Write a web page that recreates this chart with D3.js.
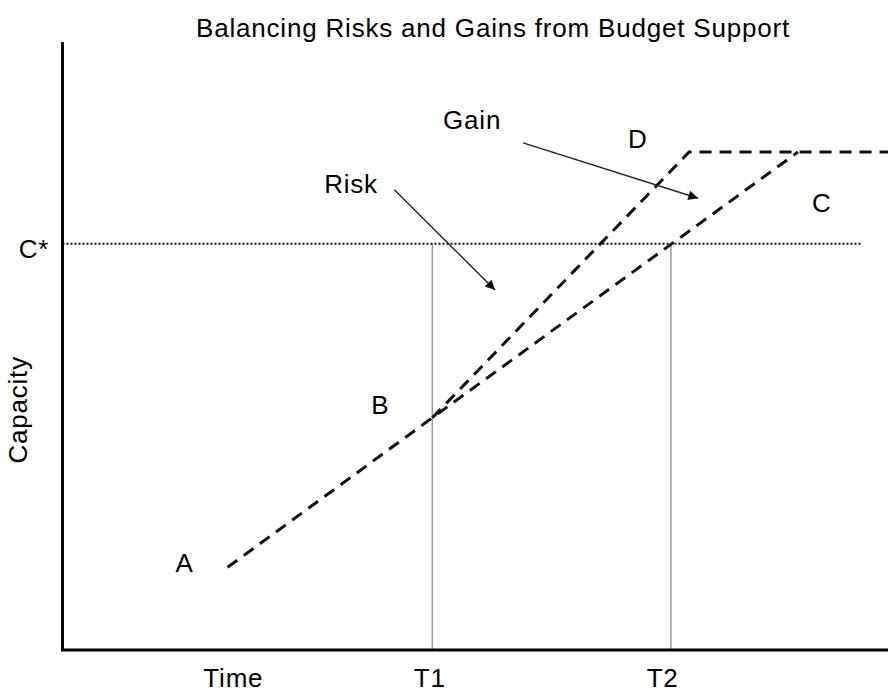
<!DOCTYPE html>
<html>
<head>
<meta charset="utf-8">
<script src="https://cdn.jsdelivr.net/npm/d3@7"></script>
<style>
  body { margin: 0; background: #fff; }
  text { font-family: "Liberation Sans", Arial, sans-serif; font-size: 26px; letter-spacing: 0.8px; fill: #000; }
</style>
</head>
<body>
<script>
"use strict";

const WIDTH = 888
const HEIGHT = 693

// data, in abstract units: time 0..100, capacity 0..100
// C path stops where it meets the shared plateau, D path carries the plateau on
const pathC = [{ t: 20.0, c: 13.6 }, { t: 44.8, c: 38.2 }, { t: 89.1, c: 81.9 }]
const pathD = [{ t: 44.8, c: 38.2 }, { t: 75.9, c: 81.9 }, { t: 100, c: 81.9 }]
const cStar = 66.8
const cStarEnd = 96.9
const timeMarks = [{ name: "T1", t: 44.8, labelT: 44.5 }, { name: "T2", t: 73.7, labelT: 72.7 }]
const pointLabels = [
    { text: "A", t: 13.7, c: 12.8 },
    { text: "B", t: 37.4, c: 38.8 },
    { text: "C", t: 90.8, c: 72.0 },
    { text: "D", t: 68.5, c: 82.6 },
    { text: "Risk", t: 31.7, c: 75.2 },
    { text: "Gain", t: 46.1, c: 85.7 },
]
const arrows = [
    { from: { t: 40.2, c: 75.7 }, to: { t: 52.4, c: 59.2 } },
    { from: { t: 55.8, c: 83.4 }, to: { t: 77.0, c: 74.3 } },
]

const x = d3.scaleLinear().domain([0, 100]).range([62.5, 888])
const y = d3.scaleLinear().domain([0, 100]).range([650, 42])

const svg = d3.select("body").append("svg")
    .attr("width", WIDTH)
    .attr("height", HEIGHT)

svg.append("defs").append("marker")
    .attr("id", "head")
    .attr("viewBox", "0 0 10 10")
    .attr("refX", 10)
    .attr("refY", 5)
    .attr("markerWidth", 9)
    .attr("markerHeight", 7)
    .attr("markerUnits", "strokeWidth")
    .attr("orient", "auto")
    .append("path")
    .attr("d", "M0,0 L10,5 L0,10 Z")
    .attr("fill", "#111")

// title
svg.append("text")
    .attr("x", 493)
    .attr("y", 37)
    .attr("text-anchor", "middle")
    .text("Balancing Risks and Gains from Budget Support")

// grey verticals at T1, T2
svg.selectAll(".tline").data(timeMarks).join("line")
    .attr("x1", d => x(d.t)).attr("x2", d => x(d.t))
    .attr("y1", y(cStar)).attr("y2", y(0))
    .attr("stroke", "#9a9a9a")
    .attr("stroke-width", 1.5)

// C* dotted
svg.append("line")
    .attr("x1", x(0)).attr("x2", x(cStarEnd))
    .attr("y1", y(cStar)).attr("y2", y(cStar))
    .attr("stroke", "#111")
    .attr("stroke-width", 2)
    .attr("stroke-dasharray", "2,2")

svg.append("text")
    .attr("x", x(-1.6))
    .attr("y", y(cStar) + 14)
    .attr("text-anchor", "end")
    .text("C*")

// dashed paths
const line = d3.line().x(d => x(d.t)).y(d => y(d.c))
svg.selectAll(".path").data([pathC, pathD]).join("path")
    .attr("d", line)
    .attr("fill", "none")
    .attr("stroke", "#111")
    .attr("stroke-width", 3)
    .attr("stroke-dasharray", "12,8")

// arrows
svg.selectAll(".arrow").data(arrows).join("line")
    .attr("x1", d => x(d.from.t)).attr("y1", d => y(d.from.c))
    .attr("x2", d => x(d.to.t)).attr("y2", d => y(d.to.c))
    .attr("stroke", "#222")
    .attr("stroke-width", 1.4)
    .attr("marker-end", "url(#head)")

// axes
svg.append("line")
    .attr("x1", x(0)).attr("x2", x(0))
    .attr("y1", y(100)).attr("y2", y(0))
    .attr("stroke", "#000").attr("stroke-width", 3)
svg.append("line")
    .attr("x1", x(0) - 1.5).attr("x2", x(100))
    .attr("y1", y(0)).attr("y2", y(0))
    .attr("stroke", "#000").attr("stroke-width", 3)

// labels
svg.selectAll(".plabel").data(pointLabels).join("text")
    .attr("x", d => x(d.t))
    .attr("y", d => y(d.c))
    .text(d => d.text)

svg.selectAll(".tlabel").data(timeMarks).join("text")
    .attr("x", d => x(d.labelT))
    .attr("y", 687)
    .attr("text-anchor", "middle")
    .text(d => d.name)

svg.append("text")
    .attr("x", x(20.7))
    .attr("y", 687)
    .attr("text-anchor", "middle")
    .text("Time")

svg.append("text")
    .attr("transform", `translate(27,${y(39.5)}) rotate(-90)`)
    .attr("text-anchor", "middle")
    .text("Capacity")
</script>
</body>
</html>
